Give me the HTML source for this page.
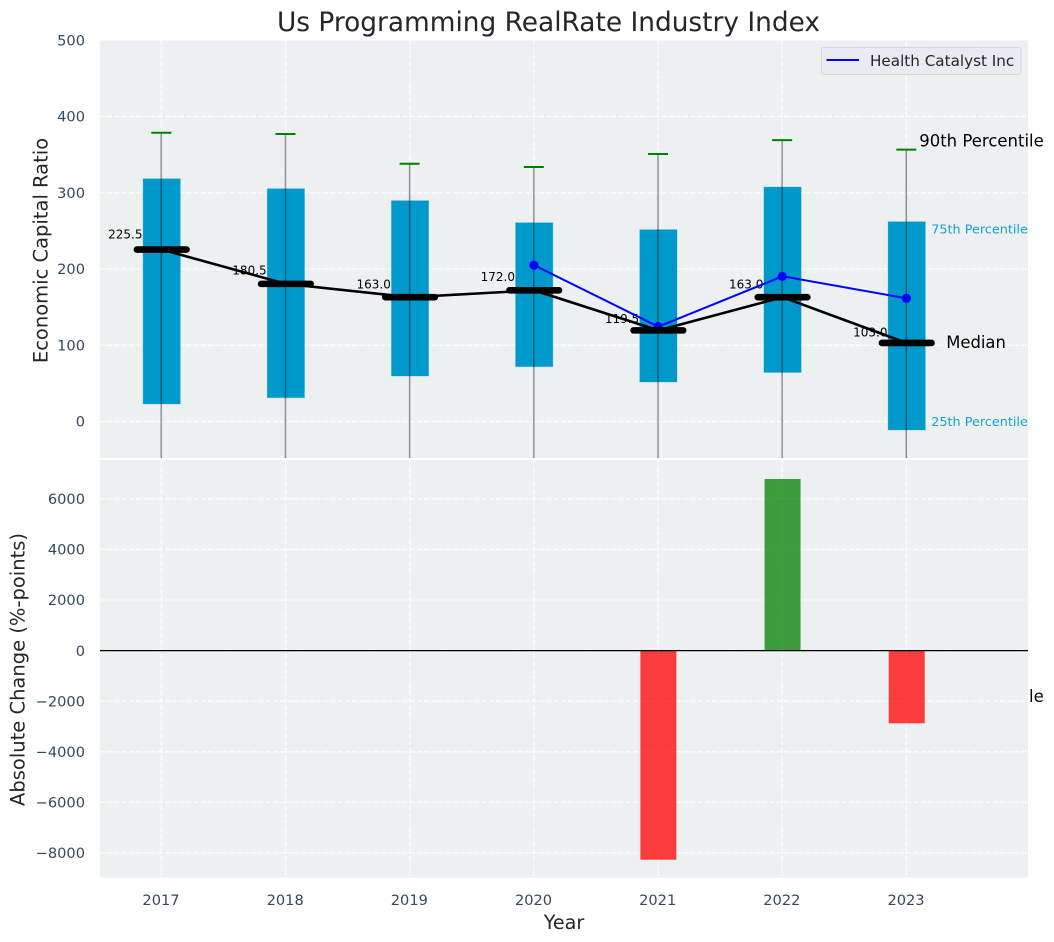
<!DOCTYPE html>
<html>
<head>
<meta charset="utf-8">
<title>Us Programming RealRate Industry Index</title>
<style>
html,body{margin:0;padding:0;background:#fff;width:1054px;height:942px;overflow:hidden}
svg{display:block;font-family:"DejaVu Sans","Liberation Sans",sans-serif}
</style>
</head>
<body>
<svg id="chart" xmlns="http://www.w3.org/2000/svg" width="1054" height="942" viewBox="0 0 1054 942">
  <defs>
    <clipPath id="top-clip"><rect x="100" y="40.2" width="928" height="417.9"></rect></clipPath>
    <clipPath id="bottom-clip"><rect x="100" y="459.8" width="928" height="417.9"></rect></clipPath>
  </defs>
</svg>
<script>
const years = [2017, 2018, 2019, 2020, 2021, 2022, 2023];
const p90 = [378.7, 377, 338, 333.8, 350.8, 369, 356.5];
const p75 = [318.4, 305.3, 289.6, 260.7, 251.6, 307.5, 262];
const medians = [225.5, 180.5, 163.0, 172.0, 119.5, 163.0, 103.0];
const p25 = [23, 31.2, 59.7, 71.9, 51.8, 64.3, -11.1];
const p10 = [-300, -290, -250, -260, -270, -280, -372];
const company = [null, null, null, 204.9, 124.4, 190.4, 161.5];
const changes = [null, null, null, null, -8265, 6783, -2873];
const topTicks = [0, 100, 200, 300, 400, 500];
const bottomTicks = [-8000, -6000, -4000, -2000, 0, 2000, 4000, 6000];
const companyName = 'Health Catalyst Inc';

const NS = 'http://www.w3.org/2000/svg';
const svg = document.getElementById('chart');
const xScale = v => 161.7 + (v - 2017) * 124.17;
const yTop = v => 421.5 - v * 0.7625;
const yBottom = v => 650.6 - v * 0.0253;
const fmt = t => (t < 0 ? '\u2212' + Math.abs(t) : String(t));

function mk(tag, attrs, parent) {
  const el = document.createElementNS(NS, tag);
  for (const k in attrs) el.setAttribute(k, attrs[k]);
  (parent || svg).appendChild(el);
  return el;
}
function txt(str, attrs, parent) {
  const el = mk('text', attrs, parent);
  el.textContent = str;
  return el;
}

/* top panel background */
const topBg = mk('rect', {x: 100, y: 40.2, width: 928, height: 417.9, fill: '#ecf0f1'});



const topPlot = mk('g', {'clip-path': 'url(#top-clip)'});



const gridStyle = {stroke: '#ffffff', 'stroke-width': 1.3, 'stroke-dasharray': '5 2.2', 'stroke-opacity': 0.85, fill: 'none'};

topTicks.forEach(t => {
  const g = mk('line', Object.assign({x1: 100, x2: 1028, y1: yTop(t), y2: yTop(t)}, gridStyle), topPlot);
  
  
  const l = txt(String(t), {x: 85, y: yTop(t) + 5.2, 'text-anchor': 'end', 'font-size': 14.6, fill: '#34495e'});
  
  
});
years.forEach(y => {
  const g = mk('line', Object.assign({x1: xScale(y) - 0.3, x2: xScale(y) - 0.3, y1: 40, y2: 459}, gridStyle), topPlot);
  
  
});

/* boxes */
years.forEach((y, i) => {
  const bw = 0.3 * 124.17;
  const b = mk('rect', {x: xScale(y) - bw / 2, y: yTop(p75[i]), width: bw, height: yTop(p25[i]) - yTop(p75[i]), fill: '#0099cc', stroke: '#0099cc', 'stroke-opacity': 0.25, 'stroke-width': 1}, topPlot);
  
  
});
/* whiskers and caps */
years.forEach((y, i) => {
  const wx = xScale(y) - 0.4;
  const w = mk('line', {x1: wx, x2: wx, y1: yTop(p90[i]), y2: yTop(p10[i]), stroke: '#000000', 'stroke-opacity': 0.42, 'stroke-width': 1.5}, topPlot);
  
  
  const c = mk('line', {x1: wx - 10, x2: wx + 10, y1: yTop(p90[i]), y2: yTop(p90[i]), stroke: '#008000', 'stroke-width': 2}, topPlot);
  
  
});
/* median value labels (beneath the lines) */
years.forEach((y, i) => {
  const l = txt(medians[i].toFixed(1), {x: xScale(y) - 19.2, y: yTop(medians[i] * 1.05) - 2.6, 'text-anchor': 'end', 'font-size': 12, fill: '#000000'}, topPlot);
  
  
});
/* median connector */
const medLine = mk('polyline', {points: years.map((y, i) => xScale(y) + ',' + yTop(medians[i])).join(' '), fill: 'none', stroke: '#000000', 'stroke-width': 2.6}, topPlot);


/* company line */
const cPts = years.map((y, i) => company[i] === null ? null : xScale(y) + ',' + yTop(company[i])).filter(Boolean);
const cLine = mk('polyline', {points: cPts.join(' '), fill: 'none', stroke: '#0000ff', 'stroke-width': 2}, topPlot);


years.forEach((y, i) => {
  if (company[i] === null) return;
  const p = mk('circle', {cx: xScale(y) - 0.3, cy: yTop(company[i]), r: 4.6, fill: '#0000ff'}, topPlot);
  
  
});
/* median bars on top */
years.forEach((y, i) => {
  const m = mk('line', {x1: xScale(y) - 24.8, x2: xScale(y) + 24.8, y1: yTop(medians[i]), y2: yTop(medians[i]), stroke: '#000000', 'stroke-width': 6.6, 'stroke-linecap': 'round'}, topPlot);
  
  
});

/* annotations for the last year */
const last = years.length - 1;
const lastX = xScale(years[last]);
const a90 = txt('90th Percentile', {x: lastX + 12.5, y: yTop(p90[last]) - 3, 'font-size': 16.5, fill: '#000000'});


const a75 = txt('75th Percentile', {x: lastX + 24.5, y: yTop(p75[last]) + 11.8, 'font-size': 12.8, fill: '#1a9fcf'});


const aMed = txt('Median', {x: lastX + 39.5, y: yTop(medians[last]) + 4.9, 'font-size': 16.4, fill: '#000000'});


const a25 = txt('25th Percentile', {x: lastX + 24.5, y: yTop(p25[last]) - 4, 'font-size': 12.8, fill: '#1a9fcf'});


const a10 = txt('10th Percentile', {x: lastX + 12.5, y: yTop(p10[last]) - 3, 'font-size': 16.5, fill: '#000000'});



/* legend */
const legend = mk('g', {});


const lBox = mk('rect', {x: 821.5, y: 47.5, width: 199.5, height: 27, rx: 2.5, fill: '#eaeaf2', stroke: '#d6d6de', 'stroke-width': 1}, legend);


const lLine = mk('line', {x1: 826.5, x2: 859, y1: 60, y2: 60, stroke: '#0000ff', 'stroke-width': 2}, legend);


const lText = txt(companyName, {x: 870, y: 66, 'font-size': 15.2, fill: '#262626'}, legend);



/* bottom panel */
const botBg = mk('rect', {x: 100, y: 459.8, width: 928, height: 417.9, fill: '#ecf0f1'});


const botPlot = mk('g', {'clip-path': 'url(#bottom-clip)'});



bottomTicks.forEach(t => {
  const g = mk('line', Object.assign({x1: 100, x2: 1028, y1: yBottom(t), y2: yBottom(t)}, gridStyle), botPlot);
  
  
  const l = txt(fmt(t), {x: 85, y: yBottom(t) + 5.2, 'text-anchor': 'end', 'font-size': 14.6, fill: '#34495e'});
  
  
});
years.forEach(y => {
  const g = mk('line', Object.assign({x1: xScale(y) - 0.3, x2: xScale(y) - 0.3, y1: 460, y2: 878}, gridStyle), botPlot);
  
  
  const l = txt(String(y), {x: xScale(y) - 0.7, y: 904.8, 'text-anchor': 'middle', 'font-size': 14.6, fill: '#34495e'});
  
  
});
years.forEach((y, i) => {
  if (changes[i] === null) return;
  const v = changes[i];
  const bw = 0.29 * 124.17;
  const b = mk('rect', {x: xScale(y) - bw / 2, y: Math.min(yBottom(v), yBottom(0)), width: bw, height: Math.abs(yBottom(v) - yBottom(0)), fill: v >= 0 ? '#008000' : '#ff0000', 'fill-opacity': 0.75}, botPlot);
  
  
});
const zero = mk('line', {x1: 100, x2: 1028, y1: yBottom(0), y2: yBottom(0), stroke: '#000000', 'stroke-width': 1.3}, botPlot);



/* titles */
const title = txt('Us Programming RealRate Industry Index', {x: 548.5, y: 31, 'text-anchor': 'middle', 'font-size': 26.4, fill: '#262626'});


const yt1 = txt('Economic Capital Ratio', {x: 0, y: 0, transform: 'translate(47.5,250.5) rotate(-90)', 'text-anchor': 'middle', 'font-size': 19.5, fill: '#262626'});


const yt2 = txt('Absolute Change (%-points)', {x: 0, y: 0, transform: 'translate(24.5,669.5) rotate(-90)', 'text-anchor': 'middle', 'font-size': 19.5, fill: '#262626'});


const xt = txt('Year', {x: 564, y: 929, 'text-anchor': 'middle', 'font-size': 19.2, fill: '#262626'});


</script>
</body>
</html>
